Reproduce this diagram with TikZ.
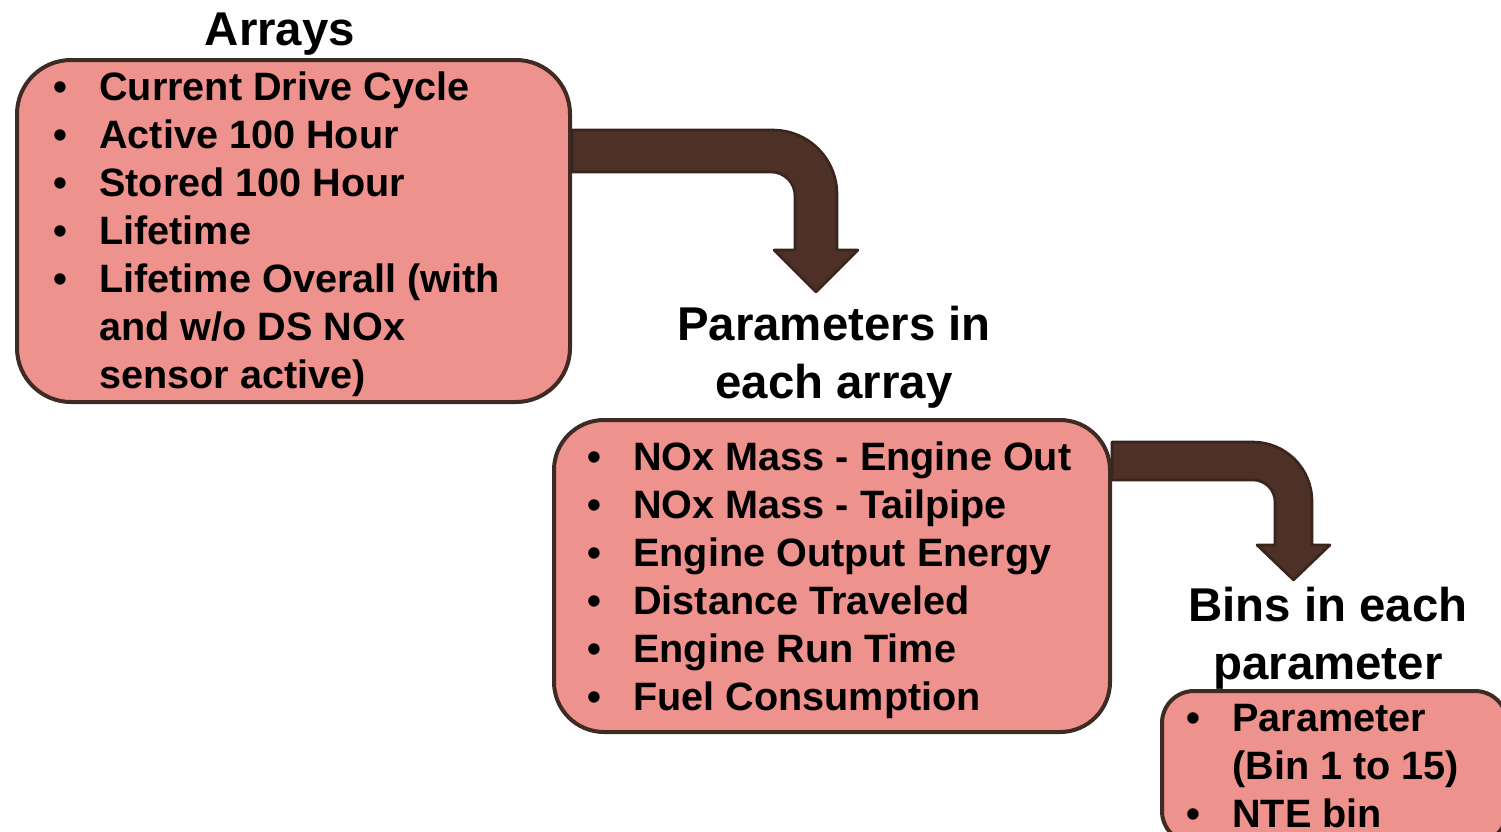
\documentclass[tikz,border=0pt]{standalone}
\usepackage{fontspec}
\setmainfont{Liberation Sans}
\usepackage{xcolor}
\usetikzlibrary{positioning}
\definecolor{boxfill}{RGB}{238,146,142}
\definecolor{boxline}{RGB}{61,43,36}
\definecolor{arrowfill}{RGB}{78,49,38}
\definecolor{arrowline}{RGB}{58,36,27}
\newcommand\bul{\makebox[23pt][l]{\textbullet}}
\newcommand\cont{\hspace*{23pt}}

\begin{document}
\begin{tikzpicture}[
  x=0.5pt, y=-0.5pt,
  listbox/.style={draw=boxline, fill=boxfill, line width=2pt, anchor=north west, inner sep=0pt},
  listtext/.style={align=left, anchor=north west, inner sep=0pt, font=\fontsize{19.8}{24}\bfseries\selectfont},
  heading/.style={align=center, anchor=north, inner sep=0pt, font=\fontsize{23.7}{29}\bfseries\selectfont},
  bentarrow/.style={fill=arrowfill, draw=arrowline, line width=1.3pt, line join=round}
]
\useasboundingbox (0,0) rectangle (1501,831);

% boxes
\node[listbox, rounded corners=27pt, minimum width=276.5pt, minimum height=171pt] (arraybox) at (15,58) {};
\node[listbox, rounded corners=25pt, minimum width=278pt, minimum height=156pt] (parambox) at (552,418) {};
\node[listbox, rounded corners=16pt, minimum width=172.5pt, minimum height=76pt] (binbox) at (1160,689) {};

% lists
\node[listtext] (arraylist) at (53,66.4) {\strut\bul Current Drive Cycle\\
  \bul Active 100 Hour\\
  \bul Stored 100 Hour\\
  \bul Lifetime\\
  \bul Lifetime Overall (with\\
  \cont and w/o DS NOx\\
  \cont sensor active)};
\node[listtext] (paramlist) at (587,436.4) {\strut\bul NOx Mass - Engine Out\\
  \bul NOx Mass - Tailpipe\\
  \bul Engine Output Energy\\
  \bul Distance Traveled\\
  \bul Engine Run Time\\
  \bul Fuel Consumption};
\node[listtext] (binlist) at (1186,697.4) {\strut\bul Parameter\\
  \cont (Bin 1 to 15)\\
  \bul NTE bin};

% headings
\node[heading] (arrayhead) at (280,4.4) {\strut Arrays};
\node[heading] (paramhead) at (834,299.4) {\strut Parameters in\\each array};
\node[heading] (binhead) at (1328,580.4) {\strut Bins in each\\parameter};

% bent block arrows
\filldraw[bentarrow] (arraybox.east |- 0,130) -- (773,130)
  .. controls (808.3,130) and (837,158.7) .. (837,194) -- (837,250) -- (858,250)
  -- (816,292) -- (774,250) -- (795,250) -- (795,196)
  .. controls (795,182.7) and (784.3,172) .. (771,172) -- (arraybox.east |- 0,172) -- cycle;
\filldraw[bentarrow] (parambox.east |- 0,442) -- (1253,442)
  .. controls (1285.6,442) and (1312,468.4) .. (1312,501) -- (1312,545) -- (1330,545)
  -- (1293.5,580) -- (1257,545) -- (1275,545) -- (1275,502)
  .. controls (1275,489.8) and (1265.2,480) .. (1253,480) -- (parambox.east |- 0,480) -- cycle;

\end{tikzpicture}
\end{document}
